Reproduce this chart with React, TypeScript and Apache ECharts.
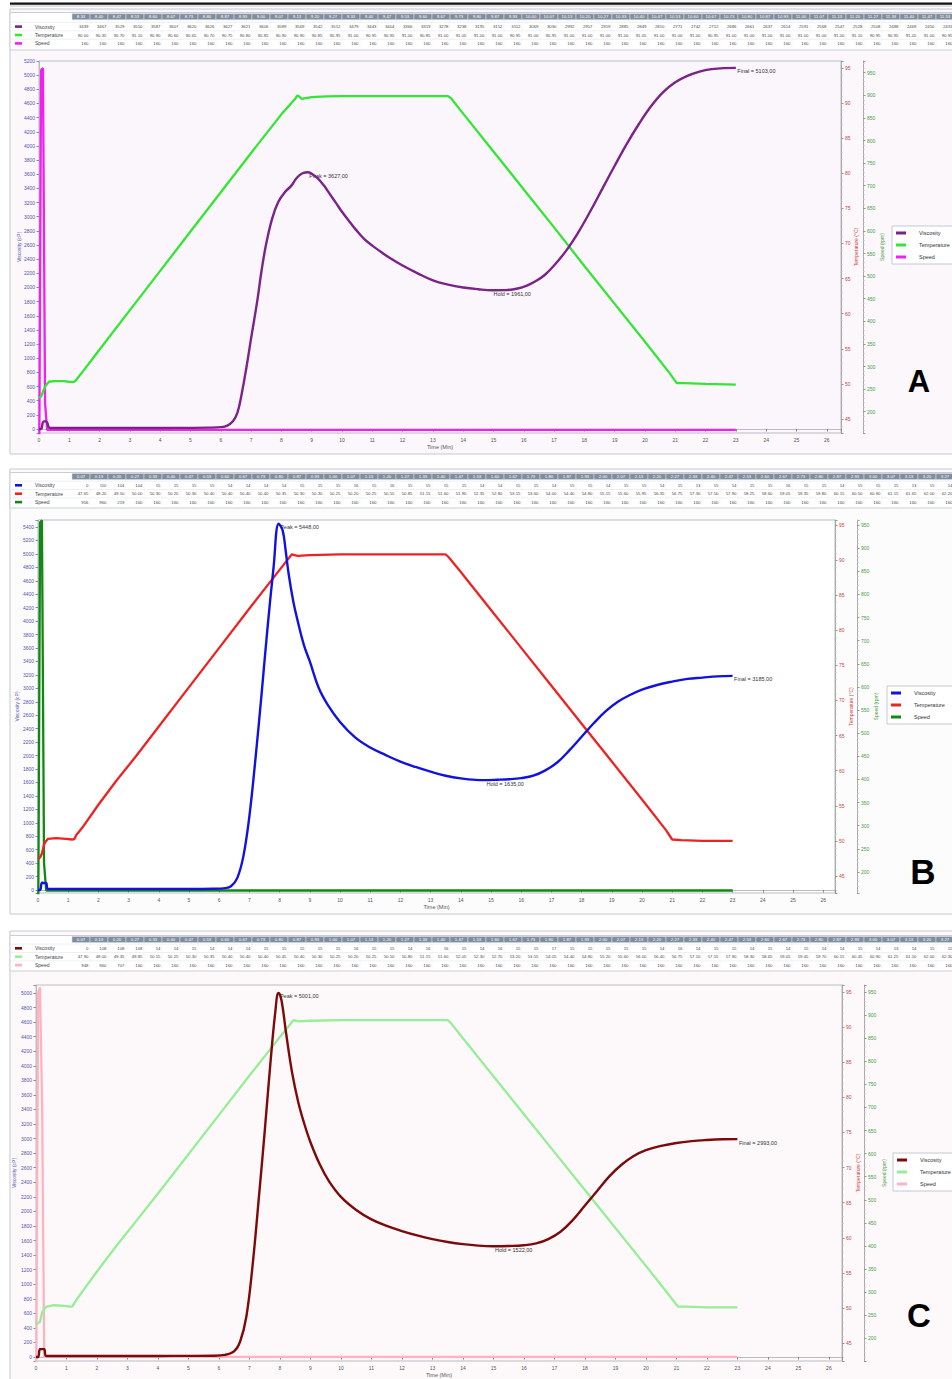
import React, { useEffect, useRef } from "react";
import * as echarts from "echarts";

// ---------------- table data ----------------
const tableTimesA = ["8.33","8.40","8.47","8.53","8.60","8.67","8.73","8.80","8.87","8.93","9.00","9.07","9.13","9.20","9.27","9.33","9.40","9.47","9.53","9.60","9.67","9.73","9.80","9.87","9.93","10.00","10.07","10.13","10.20","10.27","10.33","10.40","10.47","10.53","10.60","10.67","10.73","10.80","10.87","10.93","11.00","11.07","11.13","11.20","11.27","11.33","11.40","11.47","11.53"];
const tableViscA = [3439,3467,3529,3550,3587,3607,3620,3626,3627,3621,3606,3589,3569,3542,3512,3479,3443,3404,3366,3319,3278,3238,3195,3152,3112,3069,3030,2992,2957,2919,2885,2849,2810,2771,2742,2712,2686,2661,2637,2614,2591,2568,2547,2528,2508,2488,2469,2450,2431];
const tableTempA = [90.00,90.35,90.70,91.10,90.90,90.60,90.65,90.70,90.75,90.80,90.85,90.90,90.90,90.85,90.95,91.00,90.95,90.95,91.00,90.85,91.00,91.05,91.00,91.00,90.95,91.00,90.95,91.00,91.00,91.00,91.00,91.05,91.00,91.00,91.00,90.95,91.00,91.00,91.00,91.00,91.00,91.00,91.00,91.10,90.95,90.95,91.05,91.00,90.95];
const tableSpeedA = [160,160,160,160,160,160,160,160,160,160,160,160,160,160,160,160,160,160,160,160,160,160,160,160,160,160,160,160,160,160,160,160,160,160,160,160,160,160,160,160,160,160,160,160,160,160,160,160,160];

const tableTimesBC = ["0.07","0.13","0.20","0.27","0.33","0.40","0.47","0.53","0.60","0.67","0.73","0.80","0.87","0.93","1.00","1.07","1.13","1.20","1.27","1.33","1.40","1.47","1.53","1.60","1.67","1.73","1.80","1.87","1.93","2.00","2.07","2.13","2.20","2.27","2.33","2.40","2.47","2.53","2.60","2.67","2.73","2.80","2.87","2.93","3.00","3.07","3.13","3.20","3.27"];
const tableViscB = [0,110,104,104,15,15,15,15,14,14,14,14,15,15,15,16,15,16,15,15,15,15,14,14,15,15,14,15,15,14,15,15,14,15,13,15,14,15,15,16,15,15,14,15,15,15,13,15,14];
const tableTempB = [47.65,48.20,49.50,50.00,50.30,50.20,50.30,50.40,50.40,50.40,50.40,50.35,50.30,50.30,50.25,50.20,50.25,50.55,50.85,51.15,51.60,51.90,52.35,52.80,53.15,53.60,54.00,54.40,54.80,55.15,55.60,55.95,56.35,56.75,57.30,57.50,57.90,58.25,58.60,59.05,59.35,59.80,60.15,60.50,60.90,61.15,61.65,62.00,62.20];
const tableSpeedB = [956,960,219,160,160,160,160,160,160,160,160,160,160,160,160,160,160,160,160,160,160,160,160,160,160,160,160,160,160,160,160,160,160,160,160,160,160,160,160,160,160,160,160,160,160,160,160,160,160];
const tableViscC = [0,108,108,108,14,14,15,14,14,14,15,15,15,15,15,16,15,15,14,16,16,15,14,16,15,15,17,15,15,15,15,15,14,16,14,15,15,14,15,14,15,14,14,15,14,13,14,15,15];
const tableTempC = [47.90,48.00,49.35,49.85,50.15,50.25,50.30,50.35,50.40,50.40,50.40,50.45,50.40,50.30,50.25,50.20,50.25,50.50,50.80,51.15,51.60,52.05,52.30,52.70,53.20,53.55,54.05,54.40,54.80,55.20,55.60,56.00,56.40,56.75,57.10,57.55,57.90,58.30,58.65,59.05,59.45,59.70,60.15,60.45,60.90,61.25,61.50,62.00,62.30];
const tableSpeedC = [948,960,707,160,160,160,160,160,160,160,160,160,160,160,160,160,160,160,160,160,160,160,160,160,160,160,160,160,160,160,160,160,160,160,160,160,160,160,160,160,160,160,160,160,160,160,160,160,160];

// ---------------- curve data (time min, value) ----------------
const viscA: [number, number][] = [[0,0],[0.07,0],[0.13,95],[0.2,112],[0.27,90],[0.33,20],[0.4,14],[1,15],[2,15],[3,14],[4,15],[5,16],[5.6,19],[6.0,26],[6.2,45],[6.4,110],[6.55,230],[6.7,520],[6.85,880],[7.0,1280],[7.2,1800],[7.35,2250],[7.5,2620],[7.7,2980],[7.9,3210],[8.1,3340],[8.33,3439],[8.47,3529],[8.6,3587],[8.73,3620],[8.87,3627],[9.0,3606],[9.2,3542],[9.4,3443],[9.6,3319],[9.8,3195],[10.0,3069],[10.2,2957],[10.47,2810],[10.73,2686],[11.0,2591],[11.27,2508],[11.53,2431],[12.0,2310],[12.5,2200],[13.0,2100],[13.5,2040],[14.0,2000],[14.5,1975],[14.95,1961],[15.4,1963],[15.8,1985],[16.1,2025],[16.4,2090],[16.7,2180],[17.0,2310],[17.4,2520],[17.8,2780],[18.2,3080],[18.6,3400],[19.0,3720],[19.4,4030],[19.8,4310],[20.2,4560],[20.6,4760],[21.0,4900],[21.4,4990],[21.8,5050],[22.2,5085],[22.6,5100],[23.0,5103]];
const tempA: [number, number][] = [[0,48.0],[0.07,48.2],[0.13,48.9],[0.2,49.6],[0.27,50.0],[0.33,50.3],[0.5,50.4],[0.8,50.4],[1.0,50.3],[1.13,50.25],[1.2,50.4],[1.27,50.8],[1.4,51.5],[2.0,54.9],[3.0,60.5],[4.0,66.1],[5.0,71.7],[6.0,77.3],[7.0,82.9],[8.0,88.4],[8.33,90.0],[8.4,90.35],[8.47,90.7],[8.53,91.1],[8.6,90.9],[8.67,90.6],[8.8,90.7],[9.0,90.85],[9.5,90.95],[10,91.0],[11,91.0],[12,91.0],[13,91.0],[13.5,91.0],[13.6,90.7],[14,88.5],[15,83.1],[16,77.7],[17,72.3],[18,66.8],[19,61.4],[20,56.0],[20.8,51.6],[21.05,50.1],[21.3,50.1],[22,50.0],[23,49.9]];
const speedA: [number, number][] = [[0,0],[0.07,956],[0.13,960],[0.2,219],[0.27,160],[23,160]];

const viscB: [number, number][] = [[0,0],[0.07,0],[0.13,110],[0.2,104],[0.27,104],[0.33,15],[1,15],[2,15],[3,15],[4,15],[5,15],[5.8,18],[6.2,28],[6.4,60],[6.6,180],[6.8,500],[7.0,1100],[7.2,1950],[7.4,2900],[7.6,3900],[7.8,4800],[7.97,5448],[8.1,5350],[8.2,5050],[8.3,4700],[8.45,4300],[8.6,4000],[8.8,3650],[9.0,3400],[9.3,3000],[9.6,2750],[10,2500],[10.5,2270],[11,2120],[11.5,2010],[12,1910],[12.5,1830],[13,1760],[13.5,1700],[14,1660],[14.5,1638],[14.8,1635],[15.2,1640],[15.6,1648],[16,1665],[16.4,1700],[16.8,1780],[17.2,1900],[17.6,2080],[18,2280],[18.4,2480],[18.8,2660],[19.2,2800],[19.6,2900],[20,2980],[20.5,3050],[21,3100],[21.5,3140],[22,3160],[22.5,3178],[23,3185]];
const tempB: [number, number][] = [[0,47.4],[0.07,47.65],[0.13,48.2],[0.2,49.5],[0.27,50.0],[0.33,50.3],[0.6,50.4],[0.93,50.3],[1.13,50.2],[1.2,50.25],[1.27,50.85],[1.47,51.9],[2.0,55.15],[2.6,58.6],[3.27,62.2],[4.0,66.3],[5.0,71.9],[6.0,77.5],[7.0,83.1],[8.0,88.6],[8.4,90.8],[8.6,90.6],[9.0,90.7],[10,90.8],[11,90.8],[12,90.8],[13,90.8],[13.5,90.8],[13.6,90.4],[14,88.3],[15,82.9],[16,77.5],[17,72.1],[18,66.7],[19,61.3],[20,55.9],[20.8,51.5],[21.0,50.2],[21.3,50.1],[22,50.0],[23,50.0]];
const speedB: [number, number][] = [[0,0],[0.07,956],[0.13,960],[0.2,219],[0.27,160],[23,160]];

const viscC: [number, number][] = [[0,0],[0.07,0],[0.13,108],[0.2,108],[0.27,108],[0.33,14],[1,15],[2,15],[3,15],[4,15],[5,16],[5.8,18],[6.2,30],[6.5,80],[6.7,220],[6.9,560],[7.1,1250],[7.3,2150],[7.5,3100],[7.7,4100],[7.85,4750],[7.95,5001],[8.05,4900],[8.2,4450],[8.4,3900],[8.6,3500],[8.8,3200],[9.0,2950],[9.3,2650],[9.6,2420],[10,2200],[10.5,2020],[11,1890],[11.5,1800],[12,1730],[12.5,1670],[13,1620],[13.5,1580],[14,1550],[14.5,1530],[15,1522],[15.5,1525],[16,1535],[16.4,1560],[16.8,1620],[17.2,1720],[17.6,1880],[18,2080],[18.4,2280],[18.8,2480],[19.2,2640],[19.6,2760],[20,2840],[20.5,2900],[21,2940],[21.5,2965],[22,2980],[22.5,2990],[23,2993]];
const tempC: [number, number][] = [[0,47.6],[0.07,47.9],[0.13,48.0],[0.2,49.35],[0.27,49.85],[0.33,50.15],[0.6,50.4],[0.93,50.3],[1.13,50.2],[1.2,50.25],[1.27,50.8],[1.47,52.05],[2.0,55.2],[2.6,58.65],[3.27,62.3],[4.0,66.3],[5.0,71.9],[6.0,77.5],[7.0,83.1],[8.0,88.6],[8.45,91.0],[8.6,90.8],[9.0,90.9],[10,91.0],[11,91.0],[12,91.0],[13,91.0],[13.5,91.0],[13.6,90.6],[14,88.4],[15,83.0],[16,77.6],[17,72.2],[18,66.8],[19,61.4],[20,56.0],[20.8,51.6],[21.05,50.2],[21.3,50.2],[22,50.1],[23,50.1]];
const speedC: [number, number][] = [[0,0],[0.07,948],[0.13,960],[0.2,707],[0.27,160],[23,160]];

const markersA = [{ name: "Peak", t: 8.87, v: 3627 }, { name: "Hold", t: 14.95, v: 1961 }, { name: "Final", t: 23.0, v: 5103 }];
const markersB = [{ name: "Peak", t: 7.97, v: 5448 }, { name: "Hold", t: 14.8, v: 1635 }, { name: "Final", t: 23.0, v: 3185 }];
const markersC = [{ name: "Peak", t: 7.95, v: 5001 }, { name: "Hold", t: 15.0, v: 1522 }, { name: "Final", t: 23.0, v: 2993 }];

const seriesNames = ["Viscosity", "Temperature", "Speed"];

// ---------------- layout / style ----------------
const FONT = "Liberation Sans, Arial, sans-serif";

const panels = [
  {
    letter: "A", letterPos: [919, 381], letterSize: 31,
    frame: [10, 9, 960, 445], bg: "#fbf7fb", plotBg: "#fbf6fb",
    table: { top: 12.5, hdrC: 16.7, row0: 26.6, rowGap: 8.4, bottom: 50 },
    grid: { left: 39, top: 61, width: 802, height: 372 },
    x: { max: 26.47 },
    visc: { min: -56.5, max: 5200 }, temp: { min: 43.0, max: 96.0 }, speed: { min: 152.9, max: 975.9 },
    names: { visc: 18, temp: 12, speed: 16 },
    legend: { left: 892, top: 226 },
    colors: ["#7b2389", "#33e633", "#f020f0"],
    times: tableTimesA, tv: tableViscA, tt: tableTempA, ts: tableSpeedA,
    visc_d: viscA, temp_d: tempA, speed_d: speedA, markers: markersA,
  },
  {
    letter: "B", letterPos: [923, 871], letterSize: 35,
    frame: [10, 469, 960, 445], bg: "#fdfcfd", plotBg: "#ffffff",
    table: { top: 472.5, hdrC: 476.5, row0: 485.3, rowGap: 8.4, bottom: 508 },
    grid: { left: 38, top: 520, width: 797, height: 373 },
    x: { max: 26.39 },
    visc: { min: -44.6, max: 5504 }, temp: { min: 42.58, max: 95.71 }, speed: { min: 154.6, max: 960.8 },
    names: { visc: 19, temp: 13, speed: 16 },
    legend: { left: 887, top: 686 },
    colors: ["#1212e0", "#ee2222", "#118811"],
    times: tableTimesBC, tv: tableViscB, tt: tableTempB, ts: tableSpeedB,
    visc_d: viscB, temp_d: tempB, speed_d: speedB, markers: markersB,
  },
  {
    letter: "C", letterPos: [919, 1315], letterSize: 33,
    frame: [10, 931, 960, 460], bg: "#fdf9fb", plotBg: "#fdf8fa",
    table: { top: 935.5, hdrC: 939.5, row0: 948.3, rowGap: 8.4, bottom: 971 },
    grid: { left: 36, top: 985, width: 806, height: 379 },
    x: { max: 26.43 },
    visc: { min: -54.5, max: 5109 }, temp: { min: 42.46, max: 95.99 }, speed: { min: 151, max: 965.1 },
    names: { visc: 20, temp: 13, speed: 17 },
    legend: { left: 893, top: 1153 },
    colors: ["#7d0a0a", "#96ee96", "#ffb3c0"],
    times: tableTimesBC, tv: tableViscC, tt: tableTempC, ts: tableSpeedC,
    visc_d: viscC, temp_d: tempC, speed_d: speedC, markers: markersC,
  },
];

function tableGraphics(p: any): any[] {
  const els: any[] = [];
  const t = p.table;
  const colX = 72, colW = 18, hdrH = 6;
  els.push({ type: "rect", z: 1, shape: { x: 10, y: t.top, width: 960, height: t.bottom - t.top }, style: { fill: "#ffffff", stroke: "#c9ced6", lineWidth: 1 } });
  for (let r = 0; r < 3; r++) {
    const yl = p.table.row0 + (r - 0.5) * t.rowGap;
    els.push({ type: "line", z: 2, shape: { x1: 10, y1: yl, x2: 960, y2: yl }, style: { stroke: "#e4e6ea", lineWidth: 0.6 } });
  }
  const rowVals = [p.tv.map((v: number) => String(v)), p.tt.map((v: number) => v.toFixed(2)), p.ts.map((v: number) => String(v))];
  p.times.forEach((tm: string, i: number) => {
    const x = colX + i * colW;
    els.push({ type: "rect", z: 3, shape: { x, y: t.hdrC - hdrH / 2, width: colW, height: hdrH }, style: { fill: "#7f8d9d", stroke: "#d5dae0", lineWidth: 0.6 } });
    els.push({ type: "text", z: 4, style: { text: tm, x: x + colW / 2, y: t.hdrC, align: "center", verticalAlign: "middle", fill: "#ffffff", font: `4.3px ${FONT}` } });
    els.push({ type: "line", z: 2, shape: { x1: x + colW, y1: t.hdrC + hdrH / 2, x2: x + colW, y2: t.row0 + 2.5 * t.rowGap }, style: { stroke: "#eceef1", lineWidth: 0.5 } });
    rowVals.forEach((vals, r) => {
      els.push({ type: "text", z: 4, style: { text: vals[i], x: x + colW - 1.5, y: t.row0 + r * t.rowGap, align: "right", verticalAlign: "middle", fill: "#4a4a4a", font: `4.3px ${FONT}` } });
    });
  });
  seriesNames.forEach((nm, r) => {
    const y = t.row0 + r * t.rowGap;
    els.push({ type: "rect", z: 4, shape: { x: 15, y: y - 1.3, width: 7, height: 2.6 }, style: { fill: p.colors[r] } });
    els.push({ type: "text", z: 4, style: { text: nm, x: 35, y, align: "left", verticalAlign: "middle", fill: "#444", font: `5px ${FONT}` } });
  });
  return els;
}

function blankNonMultiple(step: number) {
  return (v: number) => {
    const k = v / step;
    return Math.abs(k - Math.round(k)) < 1e-6 ? String(Math.round(v)) : "";
  };
}

function buildOption() {
  const grid: any[] = [], xAxis: any[] = [], yAxis: any[] = [], series: any[] = [], legend: any[] = [];
  const graphic: any[] = [];
  graphic.push({ type: "rect", z: 5, shape: { x: 10, y: 2.5, width: 950, height: 2.2 }, style: { fill: "#111" } });
  graphic.push({ type: "line", z: 5, shape: { x1: 10, y1: 6, x2: 960, y2: 6 }, style: { stroke: "#999", lineWidth: 0.6 } });

  panels.forEach((p, gi) => {
    const [fx, fy, fw, fh] = p.frame;
    graphic.push({ type: "rect", z: -10, shape: { x: fx, y: fy, width: fw, height: fh }, style: { fill: p.bg, stroke: "#c6c8d0", lineWidth: 1 } });
    graphic.push(...tableGraphics(p));
    graphic.push({ type: "text", z: 5, style: { text: p.letter, x: p.letterPos[0], y: p.letterPos[1], align: "center", verticalAlign: "middle", fill: "#000", font: `bold ${p.letterSize}px ${FONT}` } });

    grid.push({ left: p.grid.left, top: p.grid.top, width: p.grid.width, height: p.grid.height, show: true, backgroundColor: p.plotBg, borderColor: "#b9bcc4", borderWidth: 1 });
    xAxis.push({
      gridIndex: gi, type: "value", min: 0, max: p.x.max, minInterval: 1, maxInterval: 1,
      name: "Time (Min)", nameLocation: "middle", nameGap: 11, nameMoveOverlap: false,
      nameTextStyle: { fontSize: 5.5, color: "#555", fontFamily: FONT },
      axisLine: { show: true, lineStyle: { color: "#b9bcc4" } },
      axisTick: { show: true, length: 2.5, lineStyle: { color: "#888" } },
      axisLabel: { fontSize: 5, color: "#555", margin: 4, fontFamily: FONT, formatter: blankNonMultiple(1) },
      splitLine: { show: false },
    });
    const yBase = gi * 3;
    yAxis.push({
      gridIndex: gi, type: "value", position: "left", min: p.visc.min, max: p.visc.max, minInterval: 200, maxInterval: 200,
      name: "Viscosity (cP)", nameLocation: "middle", nameRotate: 90, nameGap: p.names.visc, nameMoveOverlap: false,
      nameTextStyle: { fontSize: 5, color: "#5656aa", fontFamily: FONT },
      axisLine: { show: true, lineStyle: { color: "#b9bcc4" } },
      axisTick: { show: true, length: 2.5, lineStyle: { color: "#8888bb" } },
      axisLabel: { fontSize: 5, color: "#5656aa", margin: 4, fontFamily: FONT, formatter: blankNonMultiple(200) },
      splitLine: { show: false },
    });
    yAxis.push({
      gridIndex: gi, type: "value", position: "right", offset: 0, min: p.temp.min, max: p.temp.max, minInterval: 5, maxInterval: 5,
      name: "Temperature (°C)", nameLocation: "middle", nameRotate: 90, nameGap: p.names.temp, nameMoveOverlap: false,
      nameTextStyle: { fontSize: 5, color: "#cc4444", fontFamily: FONT },
      axisLine: { show: true, lineStyle: { color: "#aaaaaa" } },
      axisTick: { show: true, length: 2.5, lineStyle: { color: "#999" } },
      minorTick: { show: true, splitNumber: 5, length: 1.5, lineStyle: { color: "#bbb" } },
      axisLabel: { fontSize: 5, color: "#cc4444", margin: 4, fontFamily: FONT, formatter: blankNonMultiple(5) },
      splitLine: { show: false },
    });
    yAxis.push({
      gridIndex: gi, type: "value", position: "right", offset: 22, min: p.speed.min, max: p.speed.max, minInterval: 50, maxInterval: 50,
      name: "Speed (rpm)", nameLocation: "middle", nameRotate: 90, nameGap: p.names.speed, nameMoveOverlap: false,
      nameTextStyle: { fontSize: 5, color: "#44a044", fontFamily: FONT },
      axisLine: { show: true, lineStyle: { color: "#aaaaaa" } },
      axisTick: { show: true, length: 2.5, lineStyle: { color: "#999" } },
      minorTick: { show: true, splitNumber: 5, length: 1.5, lineStyle: { color: "#bbb" } },
      axisLabel: { fontSize: 5, color: "#44a044", margin: 4, fontFamily: FONT, formatter: blankNonMultiple(50) },
      splitLine: { show: false },
    });

    const [cV, cT, cS] = p.colors;
    series.push({
      type: "line", name: "Speed", xAxisIndex: gi, yAxisIndex: yBase + 2, data: p.speed_d,
      showSymbol: false, symbol: "none", lineStyle: { color: cS, width: 2.3 }, itemStyle: { color: cS }, z: 3,
    });
    series.push({
      type: "line", name: "Temperature", xAxisIndex: gi, yAxisIndex: yBase + 1, data: p.temp_d,
      showSymbol: false, symbol: "none", lineStyle: { color: cT, width: 2.3 }, itemStyle: { color: cT }, z: 4,
    });
    series.push({
      type: "line", name: "Viscosity", xAxisIndex: gi, yAxisIndex: yBase, data: p.visc_d,
      showSymbol: false, symbol: "none", smooth: 0.4,
      lineStyle: { color: cV, width: 2.4 }, itemStyle: { color: cV }, z: 5,
      markPoint: {
        symbol: "circle", symbolSize: 1, itemStyle: { color: "rgba(0,0,0,0)" }, silent: true,
        label: { show: true, position: [2, 1], align: "left", verticalAlign: "top", fontSize: 5.5, color: "#333", fontFamily: FONT },
        data: p.markers.map((m: any) => ({ coord: [m.t, m.v], value: m.v, label: { formatter: `${m.name} = ${m.v},00` } })),
      },
    });

    legend.push({
      orient: "vertical", left: p.legend.left, top: p.legend.top, icon: "rect", itemWidth: 10, itemHeight: 3, itemGap: 6,
      padding: [4, 40, 4, 4], backgroundColor: "#ffffff", borderColor: "#c6c8d0", borderWidth: 1, selectedMode: false,
      textStyle: { fontSize: 5.5, color: "#333", fontFamily: FONT, padding: [0, 0, 0, 8] },
      data: seriesNames.map((n, i) => ({ name: n, itemStyle: { color: p.colors[i] } })),
    });
  });

  return { animation: false, backgroundColor: "#ffffff", textStyle: { fontFamily: FONT }, grid, xAxis, yAxis, series, legend, graphic };
}

export default function App() {
  const ref = useRef<HTMLDivElement>(null);
  useEffect(() => {
    document.body.style.margin = "0";
    if (!ref.current) return;
    const chart = echarts.init(ref.current, undefined, { renderer: "svg" });
    chart.setOption(buildOption() as any);
    return () => chart.dispose();
  }, []);
  return <div ref={ref} style={{ width: 952, height: 1379, position: "absolute", left: 0, top: 0 }} />;
}
